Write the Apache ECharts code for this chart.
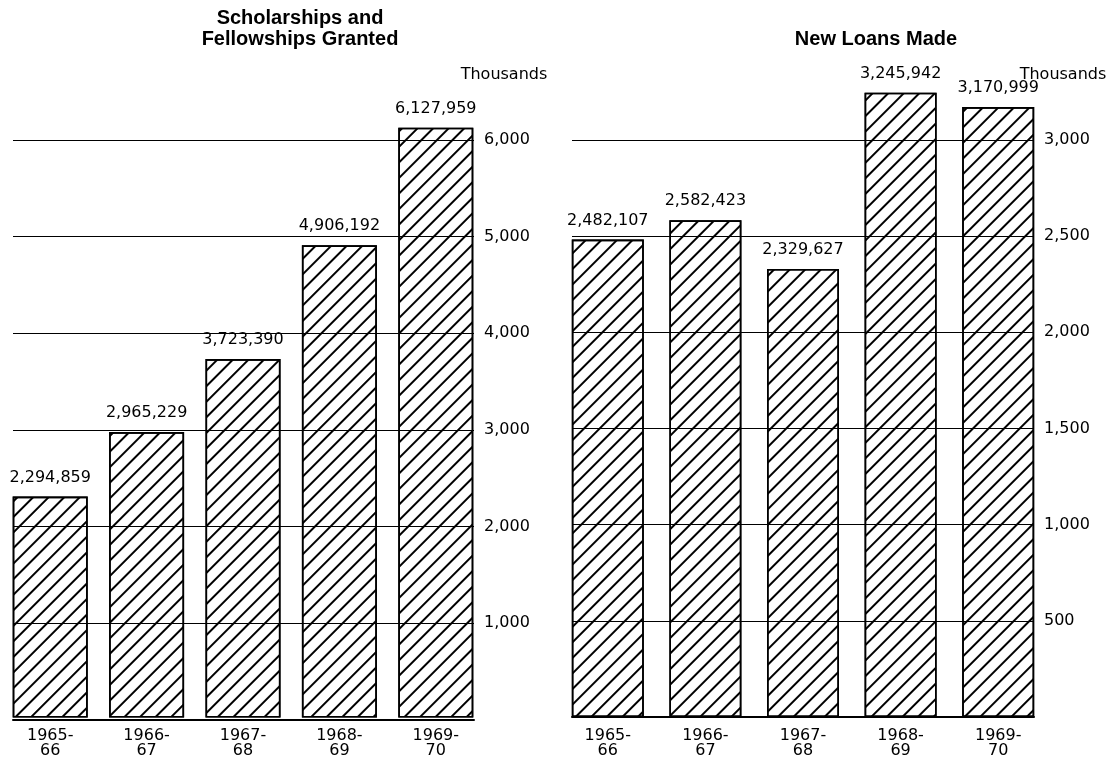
<!DOCTYPE html>
<html>
<head>
<meta charset="utf-8">
<script src="https://cdn.jsdelivr.net/npm/echarts@6/dist/echarts.min.js"></script>
<style>
html,body{margin:0;padding:0;background:#fff;}
#chart{width:1118px;height:759px;}
</style>
</head>
<body>
<div id="chart"></div>
<script>
// ---- data (values in thousands) ----
const categories = ['1965-\n66', '1966-\n67', '1967-\n68', '1968-\n69', '1969-\n70'];
const scholarships = [2294.859, 2965.229, 3723.390, 4906.192, 6127.959];
const loans = [2482.107, 2582.423, 2329.627, 3245.942, 3170.999];
const leftTitle = 'Scholarships and\nFellowships Granted';
const rightTitle = 'New Loans Made';
const unitLabel = 'Thousands';
const leftTickMax = 6000, leftTickStep = 1000;
const rightTickMax = 3000, rightTickStep = 500;

const FONT = '"DejaVu Sans", sans-serif';
const fmtThousands = v => v === 0 ? '' : Math.round(v).toLocaleString('en-US');
const fmtFull = p => Math.round(p.value * 1000).toLocaleString('en-US');

const hatch = {
  symbol: 'rect',
  symbolSize: 1,
  symbolKeepAspect: false,
  color: '#000',
  dashArrayX: [1, 0],
  dashArrayY: [1.5, 8.3],
  rotation: -Math.PI / 4
};

function lineAxes(gridIndex, max, step) {
  return {
    x: {
      gridIndex, type: 'value', min: 0, max: 1, z: 10,
      axisLine: {show: true, onZero: true, lineStyle: {color: '#000', width: 2}},
      axisTick: {show: false}, axisLabel: {show: false}, splitLine: {show: false}
    },
    y: {
      gridIndex, type: 'value', position: 'right', min: 0, max, interval: step, z: 10,
      axisLine: {show: false}, axisTick: {show: false},
      axisLabel: {show: true, margin: 10, color: '#000', fontSize: 16, fontFamily: FONT, formatter: fmtThousands},
      splitLine: {show: true, lineStyle: {color: '#000', width: 1.2}}
    }
  };
}
function barAxes(gridIndex, max) {
  return {
    x: {
      gridIndex, type: 'category', data: categories,
      axisLine: {show: false}, axisTick: {show: false}, splitLine: {show: false},
      axisLabel: {show: true, interval: 0, margin: 11, color: '#000', fontSize: 16, lineHeight: 15, fontFamily: FONT}
    },
    y: {
      gridIndex, type: 'value', min: 0, max, show: false,
      axisLine: {show: false}, axisTick: {show: false}, axisLabel: {show: false}, splitLine: {show: false}
    }
  };
}
const a0 = lineAxes(0, leftTickMax, leftTickStep);
const a1 = barAxes(1, leftTickMax);
const a2 = lineAxes(2, rightTickMax, rightTickStep);
const a3 = barAxes(3, rightTickMax);

function barSeries(idx, data, width) {
  return {
    type: 'bar', xAxisIndex: idx, yAxisIndex: idx, data, barWidth: width, clip: false, z: 2,
    itemStyle: {color: '#fff', borderColor: '#000', borderWidth: 1.6, decal: hatch},
    label: {show: true, position: 'top', distance: 11, color: '#000', fontSize: 16, fontFamily: FONT, formatter: fmtFull},
    emphasis: {disabled: true}, animation: false
  };
}

const chart = echarts.init(document.getElementById('chart'), null, {renderer: 'canvas'});
chart.setOption({
  backgroundColor: '#fff',
  animation: false,
  grid: [
    {left: 13, top: 140, width: 461, height: 580},
    {left: 2, top: 140, width: 482, height: 580},
    {left: 572, top: 140, width: 462, height: 577},
    {left: 559, top: 140, width: 488, height: 577}
  ],
  xAxis: [a0.x, a1.x, a2.x, a3.x],
  yAxis: [a0.y, a1.y, a2.y, a3.y],
  series: [barSeries(1, scholarships, 75), barSeries(3, loans, 72)],
  graphic: [
    {type: 'text', x: 300, y: 29, style: {text: leftTitle, textAlign: 'center', textVerticalAlign: 'middle',
      font: 'bold 20px "Liberation Sans", Arial, sans-serif', lineHeight: 21, fill: '#000'}},
    {type: 'text', x: 876, y: 39, style: {text: rightTitle, textAlign: 'center', textVerticalAlign: 'middle',
      font: 'bold 20px "Liberation Sans", Arial, sans-serif', fill: '#000'}},
    {type: 'text', x: 504, y: 75, style: {text: unitLabel, textAlign: 'center', textVerticalAlign: 'middle',
      font: '16px "DejaVu Sans", sans-serif', fill: '#000'}},
    {type: 'text', x: 1063, y: 75, style: {text: unitLabel, textAlign: 'center', textVerticalAlign: 'middle',
      font: '16px "DejaVu Sans", sans-serif', fill: '#000'}}
  ]
});
</script>
</body>
</html>
